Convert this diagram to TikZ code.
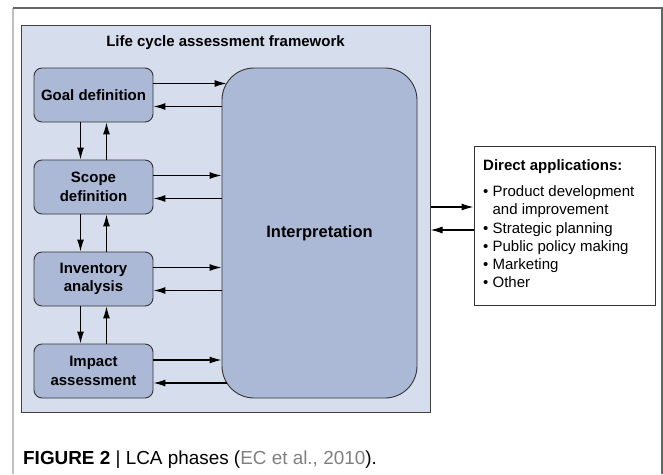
\documentclass[tikz,border=0pt]{standalone}
\usepackage{fontspec}
\setmainfont{Liberation Sans}
\usepackage{xcolor}
\usetikzlibrary{positioning, arrows.meta}
\definecolor{frameblue}{RGB}{214,221,236}
\definecolor{phaseblue}{RGB}{172,185,214}
\definecolor{linkgray}{RGB}{128,128,128}
\tikzset{
    >={Latex[length=12pt,width=7pt]}, % filled arrow heads
    framebox/.style={draw=black!75, fill=frameblue, line width=1pt, minimum width=409pt, minimum height=387pt},
    phase/.style={draw=black!80, fill=phaseblue, line width=0.9pt, rounded corners=8pt,
        minimum width=119pt, minimum height=54pt, align=center,
        font=\fontsize{15}{18.5}\selectfont\bfseries},
    interp/.style={phase, rounded corners=32pt, minimum width=195pt, minimum height=330pt,
        font=\fontsize{16.5}{20}\selectfont\bfseries},
    appbox/.style={draw=black!80, fill=white, line width=0.9pt, minimum width=181pt, minimum height=159pt},
    flow/.style={->, line width=1.2pt},
}

\begin{document}
\begin{tikzpicture}
                [x=1pt, y=-1pt, node distance=92pt, on grid, inner sep=0pt]
                \useasboundingbox (0,0) rectangle (663,474);
                % outer frame
                \draw[black!25, line width=1.5pt] (13,474) -- (13,8);
                \draw[black!60, line width=1.5pt] (13,8) -- (662,8) -- (662,474);

                % framework
                \node[framebox] (lca) at (225.5,218.5) {};
                \node[font=\fontsize{15}{18}\selectfont\bfseries] (title) at (225.5,43) {Life cycle assessment framework};

                % phases
                \node[phase] (goal) at (93.5,95) {Goal definition};
                \node[phase] (scope) [below=of goal] {Scope\\definition};
                \node[phase] (inventory) [below=of scope] {Inventory\\analysis};
                \node[phase] (impact) [below=of inventory] {Impact\\assessment};
                \node[interp] (interp) at (319.5,233) {Interpretation};

                % applications
                \node[appbox] (apps) at (564.5,225.5) {};
                \node[anchor=base west, font=\fontsize{15}{18}\selectfont\bfseries] (appstitle) at (483,170.5) {Direct applications:};
                \node[anchor=north west, align=left, font=\fontsize{15}{18.2}\selectfont] (appslist) at (483,185.6)
                    {• Product development\\\hphantom{• }and improvement\\• Strategic planning\\• Public policy making\\• Marketing\\• Other};

                % caption
                \node[anchor=base west, font=\fontsize{18.9}{22}\selectfont] (caption) at (23,464)
                    {\textbf{FIGURE 2} | LCA phases (\textcolor{linkgray}{EC et al., 2010}).};

                % arrows
                \path[flow]
                    ([yshift=11.5pt]goal.east) edge ([xshift=5pt,yshift=11.5pt]goal.east -| interp.west)
                    ([yshift=-11.5pt]goal.east -| interp.west) edge ([yshift=-11.5pt]goal.east)
                    ([yshift=11.5pt]scope.east) edge ([yshift=11.5pt]scope.east -| interp.west)
                    ([yshift=-11.5pt]scope.east -| interp.west) edge ([yshift=-11.5pt]scope.east)
                    ([yshift=11.5pt]inventory.east) edge ([yshift=11.5pt]inventory.east -| interp.west)
                    ([yshift=-11.5pt]inventory.east -| interp.west) edge ([yshift=-11.5pt]inventory.east)
                    ([yshift=11pt]impact.east) edge ([yshift=11pt]impact.east -| interp.west)
                    ([xshift=5pt,yshift=-12pt]impact.east -| interp.west) edge ([yshift=-12pt]impact.east)
                    ([xshift=-13pt]goal.south) edge ([xshift=-13pt]scope.north)
                    ([xshift=13pt]scope.north) edge ([xshift=13pt]goal.south)
                    ([xshift=-13pt]scope.south) edge ([xshift=-13pt]inventory.north)
                    ([xshift=13pt]inventory.north) edge ([xshift=13pt]scope.south)
                    ([xshift=-13pt]inventory.south) edge ([xshift=-13pt]impact.north)
                    ([xshift=13pt]impact.north) edge ([xshift=13pt]inventory.south)
                    ([yshift=11.5pt]lca.east) edge ([yshift=11.5pt]lca.east -| apps.west)
                    ([yshift=-11.5pt]lca.east -| apps.west) edge ([yshift=-11.5pt]lca.east);

            \end{tikzpicture}
\end{document}
